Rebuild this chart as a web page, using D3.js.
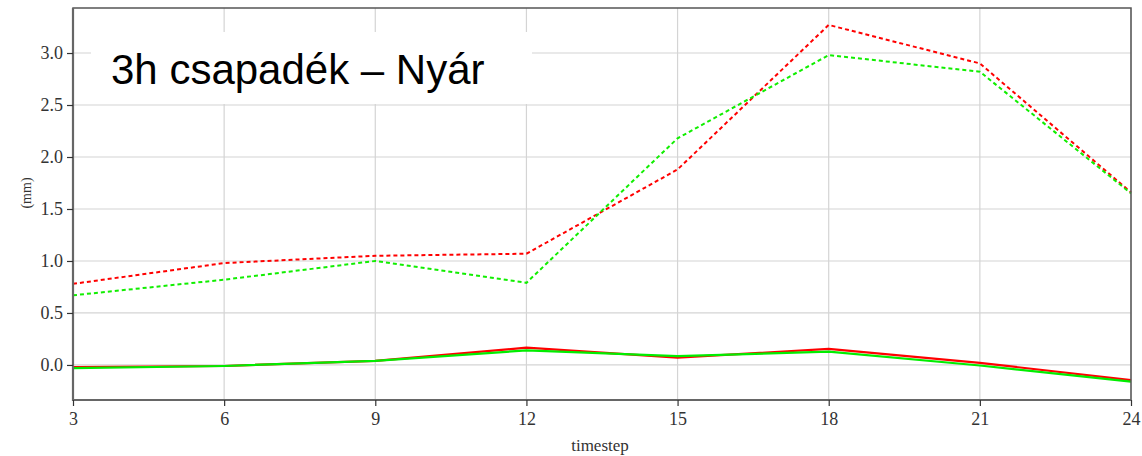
<!DOCTYPE html>
<html><head><meta charset="utf-8">
<script src="https://cdn.jsdelivr.net/npm/d3@7"></script>
<style>body{margin:0;background:#fff;} svg{display:block;}</style>
</head><body>
<svg id="c" width="1142" height="456"></svg>
<script>
const timesteps = [3, 6, 9, 12, 15, 18, 21, 24];
const redDashed   = [0.78, 0.98, 1.05, 1.07, 1.88, 3.27, 2.90, 1.66];
const greenDashed = [0.67, 0.82, 1.00, 0.79, 2.18, 2.98, 2.82, 1.65];
const redSolid    = [-0.02, -0.01, 0.04, 0.166, 0.07, 0.155, 0.02, -0.145];
const greenSolid  = [-0.03, -0.01, 0.04, 0.14, 0.085, 0.128, -0.005, -0.16];
const xTicks = [3, 6, 9, 12, 15, 18, 21, 24];
const yTicks = [0.0, 0.5, 1.0, 1.5, 2.0, 2.5, 3.0];
const titleText = "3h csapadék – Nyár";

const svg = d3.select("#c");
const L = 73, R = 1131, T = 8, B = 400;
const x = d3.scaleLinear().domain([3, 24]).range([L, R]);
const y = d3.scaleLinear().domain([-0.337, 3.433]).range([B, T]);

// grid
const g = svg.append("g");
g.selectAll("line.gx").data(xTicks).join("line")
  .attr("x1", d => x(d)).attr("x2", d => x(d)).attr("y1", T).attr("y2", B)
  .attr("stroke", "#d4d4d4").attr("stroke-width", 1.2);
g.selectAll("line.gy").data(yTicks).join("line")
  .attr("x1", L).attr("x2", R).attr("y1", d => y(d)).attr("y2", d => y(d))
  .attr("stroke", "#d4d4d4").attr("stroke-width", 1.2);

// title box
svg.append("rect").attr("x", 91).attr("y", 32).attr("width", 441).attr("height", 72).attr("fill", "#fff");
svg.append("text").attr("x", 111).attr("y", 84).text(titleText)
  .attr("font-family", "Liberation Sans, Arial, sans-serif").attr("font-size", 42).attr("fill", "#000");

// lines
const line = d3.line().x((d, i) => x(timesteps[i])).y(d => y(d));
const series = [
  {v: redSolid, c: "#ff0000", dash: null, w: 2.2},
  {v: greenSolid, c: "#00ee00", dash: null, w: 2.2},
  {v: redDashed, c: "#ff0000", dash: "4,3", w: 2},
  {v: greenDashed, c: "#11ee00", dash: "4,3", w: 2},
];
series.forEach(s => {
  svg.append("path").attr("d", line(s.v)).attr("fill", "none")
    .attr("stroke", s.c).attr("stroke-width", s.w)
    .attr("stroke-dasharray", s.dash);
});

// frame
svg.append("rect").attr("x", L).attr("y", T).attr("width", R - L).attr("height", B - T)
  .attr("fill", "none").attr("stroke", "#555").attr("stroke-width", 1.5);
svg.append("line").attr("x1", L).attr("x2", L).attr("y1", T).attr("y2", B + 1).attr("stroke", "#666").attr("stroke-width", 2.2);
svg.append("line").attr("x1", L).attr("x2", R).attr("y1", B).attr("y2", B).attr("stroke", "#666").attr("stroke-width", 2.2);

// axes
const font = "Liberation Serif, Times New Roman, serif";
const ya = d3.axisLeft(y).tickValues(yTicks).tickFormat(d3.format(".1f")).tickSize(6).tickPadding(4);
const yg = svg.append("g").attr("transform", `translate(${L},0)`).call(ya);
const xa = d3.axisBottom(x).tickValues(xTicks).tickSize(6).tickPadding(6);
const xg = svg.append("g").attr("transform", `translate(0,${B})`).call(xa);
[yg, xg].forEach(a => {
  a.select(".domain").remove();
  a.selectAll(".tick line").attr("stroke", "#333").attr("stroke-width", 1.2);
  a.selectAll("text").attr("font-family", font).attr("font-size", 18).attr("fill", "#333");
});

svg.append("text").attr("x", 600).attr("y", 451).attr("text-anchor", "middle")
  .attr("font-family", font).attr("font-size", 17).attr("fill", "#333").text("timestep");
svg.append("text").attr("transform", "translate(31,193) rotate(-90)").attr("text-anchor", "middle")
  .attr("font-family", font).attr("font-size", 14).attr("fill", "#333").text("(mm)");
</script>
</body></html>
